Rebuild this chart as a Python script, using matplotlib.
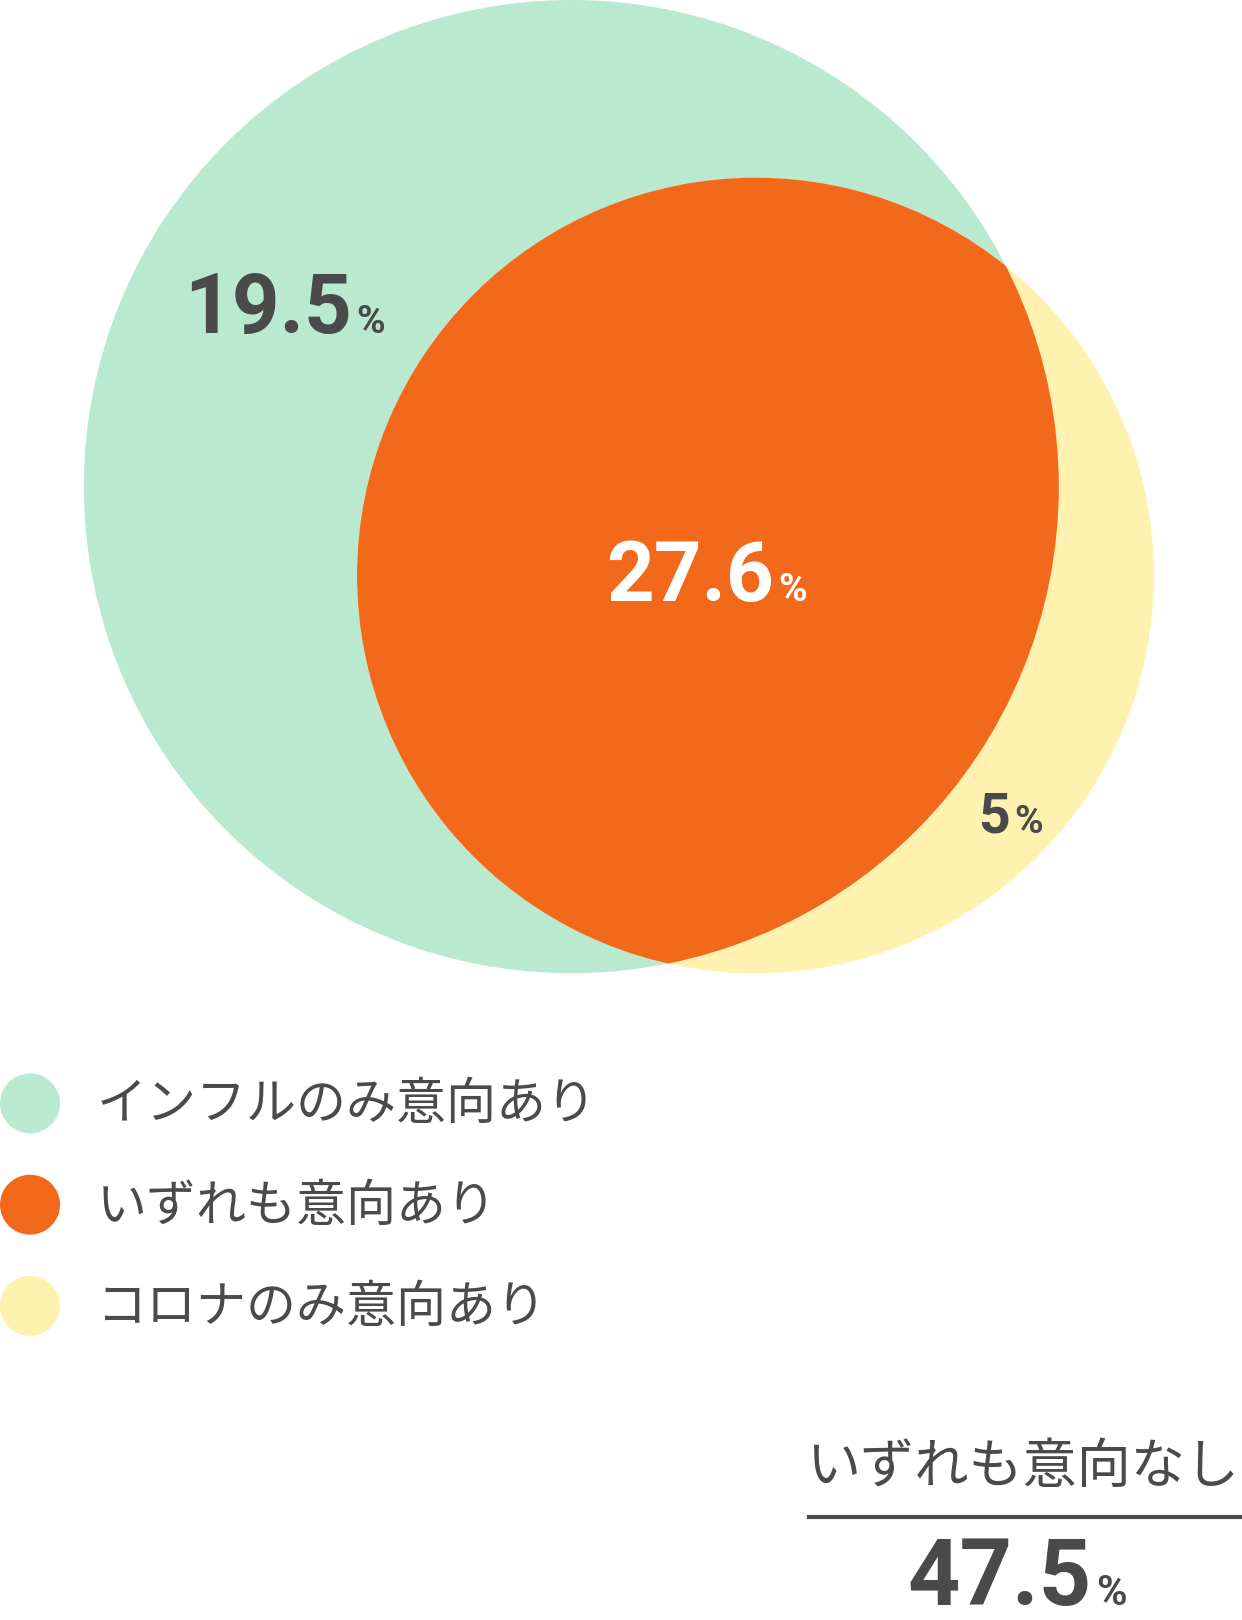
import matplotlib
matplotlib.use("Agg")
import matplotlib.pyplot as plt
from matplotlib.patches import Circle

plt.rcParams['font.family'] = ['Noto Sans CJK JP', 'DejaVu Sans']

labels = ["インフルのみ意向あり", "いずれも意向あり", "コロナのみ意向あり"]
values = ["19.5", "27.6", "5"]
none_label = "いずれも意向なし"
none_value = "47.5"
colors = ["#b9ead0", "#f3691b", "#fff2b0"]
gray = "#4a4a4a"

fig = plt.figure(figsize=(12.42, 16.2), dpi=100)
ax = fig.add_axes([0, 0, 1, 1])
ax.set_xlim(0, 1200); ax.set_ylim(1568, 0); ax.axis('off')

ax.add_patch(Circle((552, 471), 471, color=colors[0], lw=0))
ax.add_patch(Circle((730, 557), 385, color=colors[2], lw=0))
inter = Circle((730, 557), 385, color=colors[1], lw=0)
ax.add_patch(inter)
clip = Circle((552, 471), 471, transform=ax.transData)
inter.set_clip_path(clip)

def num(x, y, n, c, size, psize):
    ax.text(x, y, n, ha='right', va='baseline', fontsize=size, color=c,
            fontfamily='Roboto', fontweight='bold')
    ax.text(x + 4, y, "%", ha='left', va='baseline', fontsize=psize, color=c,
            fontfamily='Roboto', fontweight='bold')

num(340, 322, values[0], gray, 60, 28)
num(748, 582, values[1], "white", 60, 28)
num(976, 806, values[2], gray, 40, 28)

for i, (lab, c) in enumerate(zip(labels, colors)):
    y = 1070 + i * 98
    ax.add_patch(Circle((29, y - 2), 29, color=c, lw=0))
    ax.text(93, y, lab, ha='left', va='center', fontsize=36, color=gray)

ax.text(1197, 1420, none_label, ha='right', va='center', fontsize=39, color=gray)
ax.plot([782, 1200], [1468, 1468], color=gray, lw=3)
num(1055, 1553, none_value, gray, 66, 30)

fig.savefig("out.png", dpi=100)
